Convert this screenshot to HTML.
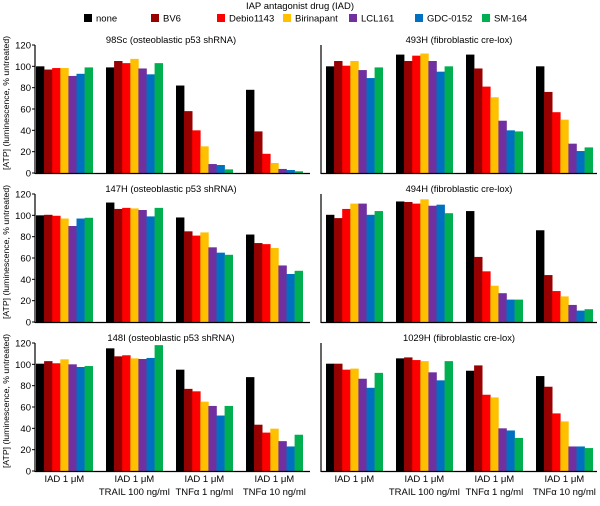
<!DOCTYPE html>
<html><head><meta charset="utf-8"><style>
body{margin:0;background:#fff;}
svg{display:block;font-family:"Liberation Sans",Arial,sans-serif;}
</style></head><body>
<svg id="chart" width="600" height="506" viewBox="0 0 600 506"></svg>
<script>
const drugs=["none","BV6","Debio1143","Birinapant","LCL161","GDC-0152","SM-164"];
const colors=["#000000","#990000","#ff0000","#ffc000","#7030a0","#0070c0","#00b050"];
const panelTitles=["98Sc (osteoblastic p53 shRNA)","493H (fibroblastic cre-lox)","147H (osteoblastic p53 shRNA)","494H (fibroblastic cre-lox)","148I (osteoblastic p53 shRNA)","1029H (fibroblastic cre-lox)"];
const conditions=[["IAD 1 \u03bcM"],["IAD 1 \u03bcM","TRAIL 100 ng/ml"],["IAD 1 \u03bcM","TNF\u03b1 1 ng/ml"],["IAD 1 \u03bcM","TNF\u03b1 10 ng/ml"]];
const yTicks=[0,20,40,60,80,100,120];
const vals98Sc=[[100,97,98.4,98.4,91,93,99],[99,105,103,107,98,92.5,103],[82,58,40,25,8.4,7.5,3.4],[78,39,18,9.4,3.8,2.8,1.6]];
const vals493H=[[100,105,100.6,105,96.5,89,99],[111,105,110,112,105,95,100],[111,98,81,71,49,40,39],[100,76,57,50,27.5,20.6,24]];
const vals147H=[[100,100.5,99.6,97,90,97,97.7],[112,106,107,106.5,105,99,107],[98,85,81,84,70,65,63],[82,74,73,69.4,53,45,48]];
const vals494H=[[100.5,97.4,106,111,111,100.5,104],[113,112.5,111,115,109,110,102],[104,61,47.5,34,27,21,21],[86,44,29,24,16,10.7,12]];
const vals148I=[[100.6,103,101,104.7,100,97.5,98.4],[115,107.5,108.5,105.6,105,106,118],[95,77,74.7,65,61,52,61],[88,43.4,36,39.7,28,23,34]];
const vals1029H=[[100.6,100.6,95,96,86.5,78,92],[105.6,106.5,104,103,92.5,85,103],[94,99,71.5,69,40,38,31],[89,79,54,46.5,23,23,21.5]];
const panelData=[vals98Sc,vals493H,vals147H,vals494H,vals148I,vals1029H];

const NS="http://www.w3.org/2000/svg";
const svg=document.getElementById("chart");
function mk(tag,attrs,parent){const e=document.createElementNS(NS,tag);for(const k in attrs)e.setAttribute(k,attrs[k]);(parent||svg).appendChild(e);return e;}

const lt=mk("text",{x:300,y:9,"font-size":9.5,"text-anchor":"middle",fill:"#000"});
lt.textContent="IAP antagonist drug (IAD)";


const legX=[84,151,217,283,349,415,482];
drugs.forEach((d,i)=>{
  const g=mk("g",{});
  
  
  mk("rect",{x:legX[i],y:14,width:8,height:8,fill:colors[i]},g);
  const t=mk("text",{x:legX[i]+12,y:21.5,"font-size":9.5,fill:"#000"},g);
  t.textContent=d;
});

const panelTop=[45,194,343];
const panelH=128;
const leftX0=35,leftX1=310,rightX0=321,rightX1=597;
const barW=8.1,groupStep=70;
panelData.forEach((data,p)=>{
  const row=Math.floor(p/2),col=p%2;
  const y0=panelTop[row]+panelH;
  const ys=v=>y0-v/120*panelH;
  const ax=col===0?leftX0:rightX0, axEnd=col===0?leftX1:rightX1;
  const gx0=ax+(col===0?1:5);
  const g=mk("g",{});
  
  
  const t=mk("text",{x:col===0?171:459,y:panelTop[row]-2,"font-size":9.4,"text-anchor":"middle",fill:"#000"},g);
  t.textContent=panelTitles[p];
  
  
  data.forEach((grp,gi)=>{
    grp.forEach((v,bi)=>{
      const r=mk("rect",{x:gx0+gi*groupStep+bi*barW,y:ys(v),width:barW+0.3,height:y0-ys(v),fill:colors[bi]},g);
      
      
    });
  });
  mk("line",{x1:ax,y1:panelTop[row],x2:ax,y2:y0+1,stroke:"#000","stroke-width":1.2},g);
  mk("line",{x1:ax,y1:y0+0.5,x2:axEnd,y2:y0+0.5,stroke:"#000","stroke-width":1.2},g);
  if(col===0){
    yTicks.forEach(tv=>{
      mk("line",{x1:ax-3,y1:ys(tv),x2:ax,y2:ys(tv),stroke:"#000","stroke-width":1},g);
      const tl=mk("text",{x:ax-4,y:ys(tv)+3.5,"font-size":9.5,"text-anchor":"end",fill:"#000"},g);
      tl.textContent=tv;
    });
    const yl=mk("text",{x:0,y:0,"font-size":8.7,"text-anchor":"middle",fill:"#000",transform:`translate(9,${panelTop[row]+panelH/2-6}) rotate(-90)`},g);
    yl.textContent="[ATP] (luminescence, % untreated)";
    
    
  }
  if(row===2){
    conditions.forEach((lines,gi)=>{
      const cx=gx0+gi*groupStep+3.5*barW;
      lines.forEach((ln,li)=>{
        const xl=mk("text",{x:cx,y:482+li*13,"font-size":9.5,"text-anchor":"middle",fill:"#000"},g);
        xl.textContent=ln;
        
        
      });
    });
  }
});
</script>
</body></html>
